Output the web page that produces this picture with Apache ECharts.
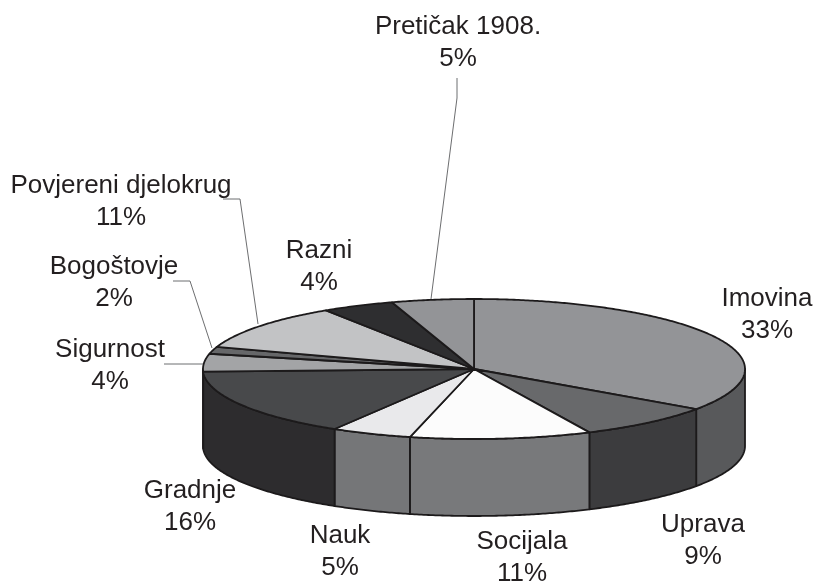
<!DOCTYPE html>
<html>
<head>
<meta charset="utf-8">
<title>Pie</title>
<style>
  html, body { margin: 0; padding: 0; background: #fff; }
  #chart { width: 817px; height: 584px; }
</style>
<script src="https://cdn.jsdelivr.net/npm/echarts@6/dist/echarts.min.js"></script>
</head>
<body>
<div id="chart"></div>
<script>
// clockwise from 12 o'clock
const names = ['Imovina', 'Uprava', 'Socijala', 'Nauk', 'Gradnje', 'Sigurnost', 'Bogoštovje', 'Povjereni djelokrug', 'Razni', 'Pretičak 1908.'];
// slice widths as drawn in the picture (they differ a little from the printed labels)
const shares = [34.7, 8.3, 10.8, 4.8, 15.8, 4.1, 1.6, 10.7, 4.3, 4.9];
const percentLabels = ['33%', '9%', '11%', '5%', '16%', '4%', '2%', '11%', '4%', '5%'];
const topColors = ['#939497', '#68696b', '#fcfcfc', '#e9e9eb', '#48494b', '#a3a4a6', '#666769', '#c2c3c5', '#2e2e30', '#939497'];
const sideColors = ['#58595b', '#3c3c3e', '#78797b', '#757678', '#2d2c2e', '#58595b', '#3c3c3e', '#78797b', '#757678', '#2d2c2e'];

// pie geometry
const cx = 474, cy = 369, rx = 271, ry = 70, depth = 77;
const edgeColor = '#1c1a1b';
const textColor = '#231f20';

// label centres, same order as names
const labelCenters = [[767, 315], [703, 541], [522, 558], [340, 552], [190, 507], [110, 366], [114, 283], [121, 202], [319, 267], [458, 43]];
const leaders = [
  [[457, 78], [457, 98], [431, 299]],
  [[223, 199], [240, 199], [258, 324]],
  [[173, 281], [190, 281], [212, 348]],
  [[164, 364], [203, 364]]
];

const total = shares.reduce((a, b) => a + b, 0);
const starts = [];
shares.reduce((acc, v, i) => { starts[i] = acc; return acc + v; }, 0);

function rimPoint(deg, dy) {
  const a = deg * Math.PI / 180;
  return [cx + rx * Math.sin(a), cy - ry * Math.cos(a) + (dy || 0)];
}

function arcPoints(from, to, dy) {
  const pts = [];
  const n = Math.max(2, Math.ceil((to - from) * 2));
  for (let i = 0; i <= n; i++) pts.push(rimPoint(from + (to - from) * i / n, dy));
  return pts;
}

function sliceAngles(i) {
  const from = starts[i] / total * 360;
  return [from, from + shares[i] / total * 360];
}

const seriesData = names.map((n, i) => ({ name: n, value: [i, shares[i]] }));

function renderSide(params, api) {
  const i = api.value(0);
  const [a0, a1] = sliceAngles(i);
  // only the front half of the wall is visible
  const from = Math.max(a0, 90), to = Math.min(a1, 270);
  if (to <= from) return null;
  const pts = arcPoints(from, to, 0).concat(arcPoints(from, to, depth).reverse());
  return {
    type: 'polygon',
    shape: { points: pts },
    style: { fill: sideColors[i], stroke: edgeColor, lineWidth: 1.8, lineJoin: 'round' }
  };
}

function renderTop(params, api) {
  const i = api.value(0);
  const [a0, a1] = sliceAngles(i);
  return {
    type: 'polygon',
    shape: { points: [[cx, cy]].concat(arcPoints(a0, a1, 0)) },
    style: { fill: topColors[i], stroke: edgeColor, lineWidth: 1.8, lineJoin: 'round' }
  };
}

const graphics = [];
leaders.forEach(pts => {
  graphics.push({
    type: 'polyline',
    z: 10,
    shape: { points: pts },
    style: { fill: null, stroke: '#6d6e70', lineWidth: 1 }
  });
});
names.forEach((n, i) => {
  graphics.push({
    type: 'text',
    z: 11,
    x: labelCenters[i][0],
    y: labelCenters[i][1],
    style: {
      text: n + '\n' + percentLabels[i],
      fill: textColor,
      font: '26px "Liberation Sans"',
      lineHeight: 32,
      align: 'center',
      verticalAlign: 'middle'
    }
  });
});

const chart = echarts.init(document.getElementById('chart'), null, { renderer: 'canvas' });
chart.setOption({
  animation: false,
  backgroundColor: '#fff',
  graphic: graphics,
  series: [
    { type: 'custom', coordinateSystem: 'none', silent: true, z: 1, renderItem: renderSide, data: seriesData },
    { type: 'custom', coordinateSystem: 'none', silent: true, z: 2, renderItem: renderTop, data: seriesData }
  ]
});
</script>
</body>
</html>
